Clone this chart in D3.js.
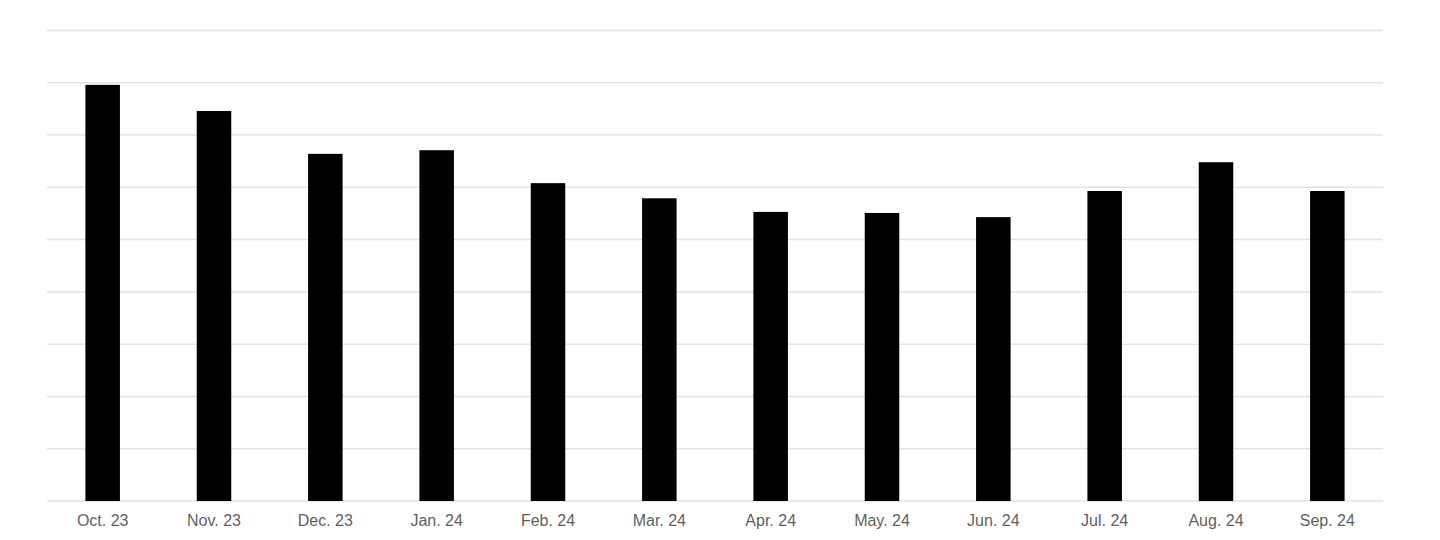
<!DOCTYPE html>
<html>
<head>
<meta charset="utf-8">
<script src="https://cdn.jsdelivr.net/npm/d3@7"></script>
<style>
  body { margin: 0; background: #fff; }
  .x-axis text { font-family: "Liberation Sans", Arial, sans-serif; font-size: 16px; fill: #5f5f5f; }
</style>
</head>
<body>
<div class="chart"></div>
<script>
const months = ["Oct. 23", "Nov. 23", "Dec. 23", "Jan. 24", "Feb. 24", "Mar. 24",
  "Apr. 24", "May. 24", "Jun. 24", "Jul. 24", "Aug. 24", "Sep. 24"]
const values = [7.96, 7.46, 6.64, 6.71, 6.08, 5.79, 5.53, 5.51, 5.43, 5.93, 6.48, 5.93]
const gridTicks = [0, 1, 2, 3, 4, 5, 6, 7, 8, 9]

const w = 1440, h = 540
const margin = {top: 30.5, right: 57, bottom: 39, left: 47}

const svg = d3.select(".chart")
  .append("svg")
  .attr("width", w)
  .attr("height", h)

const x = d3.scaleBand()
  .domain(months)
  .range([margin.left, w - margin.right])
  .paddingInner(0.69)
  .paddingOuter(0.345)

const y = d3.scaleLinear()
  .domain([0, 9])
  .range([h - margin.bottom, margin.top])

// gridlines
svg.append("g")
  .selectAll("line")
  .data(gridTicks)
  .join("line")
  .attr("x1", margin.left)
  .attr("x2", w - margin.right)
  .attr("y1", d => y(d))
  .attr("y2", d => y(d))
  .attr("stroke", "#e3e3e3")
  .attr("stroke-width", 1.5)

svg.append("g")
  .selectAll("rect")
  .data(values)
  .join("rect")
  .attr("x", (d, i) => x(months[i]))
  .attr("y", d => y(d))
  .attr("width", x.bandwidth())
  .attr("height", d => y(0) - y(d))
  .attr("fill", "#000")

const xAxis = d3.axisBottom(x).tickSize(0).tickPadding(14)

svg.append("g")
  .attr("class", "x-axis")
  .attr("transform", `translate(0,${y(0)})`)
  .call(xAxis)
  .call(g => g.select(".domain").remove())
</script>
</body>
</html>
